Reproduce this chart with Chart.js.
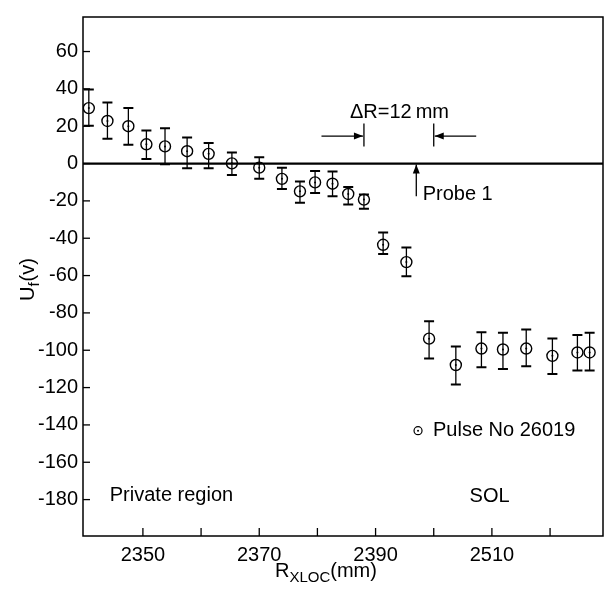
<!DOCTYPE html>
<html>
<head>
<meta charset="utf-8">
<script src="https://cdn.jsdelivr.net/npm/chart.js@4/dist/chart.umd.min.js"></script>
<style>
  html, body { margin: 0; padding: 0; background: #fff; }
  #wrap { width: 612px; height: 603px; }
</style>
</head>
<body>
<div id="wrap"><canvas id="chart" width="612" height="603"></canvas></div>
<script>
// R_XLOC (mm) of each probe reading
const radius = [2340.7, 2343.9, 2347.5, 2350.6, 2353.8, 2357.6, 2361.3, 2365.3, 2370.0, 2373.9,
                2377.0, 2379.6, 2382.6, 2385.3, 2388.0, 2391.3, 2395.3, 2399.2, 2403.8, 2408.2,
                2411.9, 2415.9, 2420.4, 2424.7, 2426.8];
// floating potential U_f (V)
const potential = [29.7, 22.8, 20.0, 10.3, 9.2, 6.6, 5.2, 0.1, -2.2, -8.2,
                   -14.9, -10.1, -10.8, -16.3, -19.3, -43.5, -52.8, -93.8, -107.9, -99.1,
                   -99.6, -99.1, -103.0, -101.2, -101.2];
// error bar ends
const errHigh = [39.7, 32.7, 29.7, 17.7, 18.9, 14.0, 11.0, 5.9, 3.4, -2.2,
                 -9.6, -4.0, -4.3, -12.6, -16.6, -36.9, -44.9, -84.5, -98.0, -90.3,
                 -90.6, -88.9, -93.7, -91.9, -90.6];
const errLow = [20.3, 13.3, 10.1, 2.4, -0.4, -2.5, -2.5, -6.1, -8.2, -13.6,
                -21.0, -15.8, -17.5, -21.9, -24.2, -48.4, -60.4, -104.4, -118.3, -109.1,
                -110.0, -108.6, -112.7, -110.9, -110.9];

const xTickValues = [2350, 2370, 2390, 2410];
const xTickLabels = ['2350', '2370', '2390', '2510'];
const xMinorTicks = [2350, 2360, 2370, 2380, 2390, 2400, 2410, 2420];
const yTickValues = [60, 40, 20, 0, -20, -40, -60, -80, -100, -120, -140, -160, -180];

const seriesName = 'Pulse No 26019';
const FONT = '"Liberation Sans", Arial, Helvetica, sans-serif';

// annotation places, in data units
const notes = {
  markLeft: 2388.0, markRight: 2400.0, markTop: 21.4, markBottom: 9.2,
  arrowY: 14.7, arrowLen: 7.3,
  deltaX: 2394.1, deltaY: 24.6,
  probeX: 2397.0, probeBottom: -17.5,
  probeTextX: 2398.1, probeTextY: -16.6,
  privX: 2344.3, privY: -178,
  solX: 2409.6, solY: -178.4,
  legendX: 2397.3, legendY: -143.1
};

let arrow = (ctx, x1, y1, x2, y2) => {
  ctx.beginPath();
  ctx.moveTo(x1, y1);
  ctx.lineTo(x2, y2);
  ctx.stroke();
  let a = Math.atan2(y2 - y1, x2 - x1);
  ctx.beginPath();
  ctx.moveTo(x2, y2);
  ctx.lineTo(x2 - 9 * Math.cos(a) + 3.5 * Math.sin(a), y2 - 9 * Math.sin(a) - 3.5 * Math.cos(a));
  ctx.lineTo(x2 - 9 * Math.cos(a) - 3.5 * Math.sin(a), y2 - 9 * Math.sin(a) + 3.5 * Math.cos(a));
  ctx.closePath();
  ctx.fill();
};

let decor = {
  id: 'decor',
  beforeDatasetsDraw(chart) {
    const ctx = chart.ctx;
    const a = chart.chartArea;
    const xs = chart.scales.x, ys = chart.scales.y;
    ctx.save();
    ctx.strokeStyle = '#000';
    ctx.fillStyle = '#000';

    // frame
    ctx.lineWidth = 1.5;
    ctx.strokeRect(a.left, a.top, a.right - a.left, a.bottom - a.top);

    // zero line
    ctx.lineWidth = 2.2;
    let y0 = ys.getPixelForValue(0);
    ctx.beginPath();
    ctx.moveTo(a.left, y0);
    ctx.lineTo(a.right, y0);
    ctx.stroke();

    // inward ticks
    ctx.lineWidth = 1.3;
    yTickValues.forEach(v => {
      let p = ys.getPixelForValue(v);
      ctx.beginPath();
      ctx.moveTo(a.left, p);
      ctx.lineTo(a.left + 7, p);
      ctx.stroke();
    });
    xMinorTicks.forEach(v => {
      let p = xs.getPixelForValue(v);
      ctx.beginPath();
      ctx.moveTo(p, a.bottom);
      ctx.lineTo(p, a.bottom - 8);
      ctx.stroke();
    });

    // error bars
    for (let i = 0; i < radius.length; i++) {
      let px = xs.getPixelForValue(radius[i]);
      let top = ys.getPixelForValue(errHigh[i]);
      let bot = ys.getPixelForValue(errLow[i]);
      ctx.lineWidth = 1.3;
      ctx.beginPath();
      ctx.moveTo(px, top);
      ctx.lineTo(px, bot);
      ctx.stroke();
      ctx.lineWidth = 2;
      ctx.beginPath();
      ctx.moveTo(px - 5, top);
      ctx.lineTo(px + 5, top);
      ctx.moveTo(px - 5, bot);
      ctx.lineTo(px + 5, bot);
      ctx.stroke();
    }

    // delta R markers
    ctx.lineWidth = 1.3;
    let l = xs.getPixelForValue(notes.markLeft);
    let r = xs.getPixelForValue(notes.markRight);
    let mt = ys.getPixelForValue(notes.markTop);
    let mb = ys.getPixelForValue(notes.markBottom);
    let ay = ys.getPixelForValue(notes.arrowY);
    ctx.beginPath();
    ctx.moveTo(l, mt); ctx.lineTo(l, mb);
    ctx.moveTo(r, mt); ctx.lineTo(r, mb);
    ctx.stroke();
    arrow(ctx, xs.getPixelForValue(notes.markLeft - notes.arrowLen), ay, l - 1, ay);
    arrow(ctx, xs.getPixelForValue(notes.markRight + notes.arrowLen), ay, r + 1, ay);

    // probe arrow
    let pxp = xs.getPixelForValue(notes.probeX);
    arrow(ctx, pxp, ys.getPixelForValue(notes.probeBottom), pxp, y0 + 1);

    // texts
    ctx.font = '20px ' + FONT;
    ctx.textBaseline = 'alphabetic';
    ctx.textAlign = 'center';
    ctx.fillText('\u0394R=12\u2009mm', xs.getPixelForValue(notes.deltaX), ys.getPixelForValue(notes.deltaY));
    ctx.textBaseline = 'middle';
    ctx.textAlign = 'left';
    ctx.fillText('Probe 1', xs.getPixelForValue(notes.probeTextX), ys.getPixelForValue(notes.probeTextY));
    ctx.fillText('Private region', xs.getPixelForValue(notes.privX), ys.getPixelForValue(notes.privY));
    ctx.textAlign = 'center';
    ctx.fillText('SOL', xs.getPixelForValue(notes.solX), ys.getPixelForValue(notes.solY));

    // legend
    let lx = xs.getPixelForValue(notes.legendX), ly = ys.getPixelForValue(notes.legendY);
    ctx.lineWidth = 1.2;
    ctx.beginPath();
    ctx.arc(lx, ly, 4, 0, Math.PI * 2);
    ctx.stroke();
    ctx.beginPath();
    ctx.arc(lx, ly, 1, 0, Math.PI * 2);
    ctx.fill();
    ctx.textAlign = 'left';
    ctx.fillText(seriesName, lx + 15, ly);

    // axis titles with subscripts
    ctx.textBaseline = 'alphabetic';
    let tx = 275, tyy = 577;
    ctx.font = '20px ' + FONT;
    ctx.fillText('R', tx, tyy);
    tx += ctx.measureText('R').width;
    ctx.font = '15px ' + FONT;
    ctx.fillText('XLOC', tx, tyy + 5);
    tx += ctx.measureText('XLOC').width;
    ctx.font = '20px ' + FONT;
    ctx.fillText('(mm)', tx, tyy);

    ctx.translate(34, 301);
    ctx.rotate(-Math.PI / 2);
    let ux = 0;
    ctx.fillText('U', ux, 0);
    ux += ctx.measureText('U').width;
    ctx.font = '15px ' + FONT;
    ctx.fillText('f', ux, 5);
    ux += ctx.measureText('f').width + 1;
    ctx.font = '20px ' + FONT;
    ctx.fillText('(v)', ux, 0);
    ctx.restore();
  },
  afterDatasetsDraw(chart) {
    const ctx = chart.ctx;
    const xs = chart.scales.x, ys = chart.scales.y;
    ctx.save();
    ctx.fillStyle = '#000';
    for (let i = 0; i < radius.length; i++) {
      ctx.beginPath();
      ctx.arc(xs.getPixelForValue(radius[i]), ys.getPixelForValue(potential[i]), 1, 0, Math.PI * 2);
      ctx.fill();
    }
    ctx.restore();
  }
};

let ctx = document.querySelector('#chart').getContext('2d');

let chart = new Chart(ctx, {
  type: 'scatter',
  data: {
    datasets: [{
      label: seriesName,
      data: radius.map((x, i) => ({ x: x, y: potential[i] })),
      pointStyle: 'circle',
      pointRadius: 5.5,
      pointBorderWidth: 1.4,
      pointBorderColor: '#000',
      pointBackgroundColor: 'rgba(255,255,255,0)',
      showLine: false
    }]
  },
  options: {
    responsive: false,
    animation: false,
    events: [],
    layout: { padding: { top: 10, right: 9, left: 0, bottom: 0 } },
    plugins: { legend: { display: false }, tooltip: { enabled: false } },
    scales: {
      x: {
        type: 'linear',
        min: 2339.7,
        max: 2429.1,
        afterBuildTicks: (scale) => { scale.ticks = xTickValues.map(v => ({ value: v })); },
        afterFit: (scale) => { scale.height = 67; },
        grid: { display: false, drawTicks: false },
        border: { display: false },
        ticks: {
          padding: 7,
          color: '#000',
          font: { family: FONT, size: 20 },
          maxRotation: 0,
          callback: (v) => xTickLabels[xTickValues.indexOf(v)]
        }
      },
      y: {
        type: 'linear',
        min: -199.5,
        max: 78.5,
        afterBuildTicks: (scale) => { scale.ticks = yTickValues.map(v => ({ value: v })); },
        afterFit: (scale) => { scale.width = 83; },
        grid: { display: false, drawTicks: false },
        border: { display: false },
        ticks: {
          padding: 5,
          color: '#000',
          font: { family: FONT, size: 20 }
        }
      }
    }
  },
  plugins: [decor]
});
</script>
</body>
</html>
